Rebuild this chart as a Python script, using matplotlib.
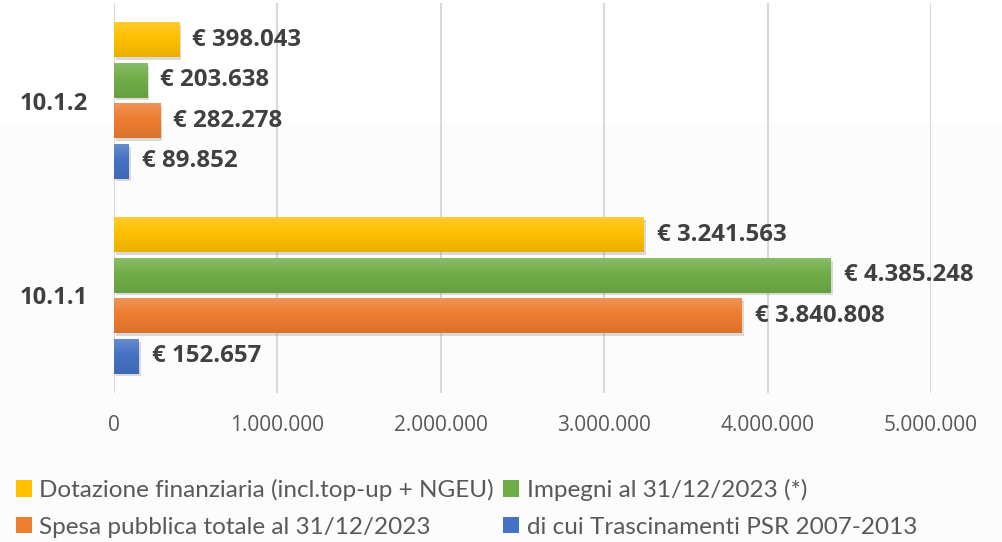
import matplotlib.pyplot as plt
import matplotlib.patheffects as pe
from matplotlib.patches import Patch, Rectangle
from matplotlib.colors import to_rgb
import numpy as np

plt.rcParams['font.family'] = ['Open Sans', 'DejaVu Sans']

# data
categories = ['10.1.1', '10.1.2']
series_names = ['Dotazione finanziaria (incl.top-up + NGEU)',
                'Impegni al 31/12/2023 (*)',
                'Spesa pubblica totale al 31/12/2023',
                'di cui Trascinamenti PSR 2007-2013']
dotazione = [3241563, 398043]
impegni = [4385248, 203638]
spesa = [3840808, 282278]
trascinamenti = [152657, 89852]
colors = ['#FFC000', '#70AD47', '#ED7D31', '#4472C4']
xticks = [0, 1000000, 2000000, 3000000, 4000000, 5000000]


def fmt(v):
    return f'{v:,}'.replace(',', '.')


def gradient(col, n=32):
    # lighter top, darker bottom, like the Excel bar fill
    c = np.array(to_rgb(col))
    top = c + (1 - c) * 0.18
    bot = c * 0.92
    t = np.linspace(0, 1, n)[:, None]
    mid = 0.45
    g = np.where(t < mid, top + (c - top) * (t / mid), c + (bot - c) * ((t - mid) / (1 - mid)))
    return g[:, None, :]


fig = plt.figure(figsize=(10.03, 5.42), dpi=100)
fig.patch.set_facecolor('white')
# very light grey lower part of the background
fig.patches.append(Rectangle((0, 0), 1, 1 - 123 / 542, transform=fig.transFigure,
                             facecolor='#fcfcfc', edgecolor='none', zorder=-10))

ax = fig.add_axes([114 / 1003, 1 - 393 / 542, (931 - 114) / 1003, 390 / 542])
ax.set_facecolor('none')

y = np.arange(len(categories))
step = 0.208
height = 0.178
all_series = [dotazione, impegni, spesa, trascinamenti]
offsets = [1.5, 0.5, -0.5, -1.5]
shadow = [pe.SimplePatchShadow(offset=(1.5, -2), shadow_rgbFace='#888888', alpha=0.3), pe.Normal()]

for vals, off, col in zip(all_series, offsets, colors):
    bars = ax.barh(y + off * step, vals, height=height, color=col, zorder=3)
    for b in bars:
        b.set_path_effects(shadow)
        x0, y0, w, h = b.get_x(), b.get_y(), b.get_width(), b.get_height()
        im = ax.imshow(gradient(col), extent=[x0, x0 + w, y0, y0 + h], aspect='auto',
                       interpolation='bilinear', zorder=3.5)
        im.set_clip_path(b)
    for yi, v in zip(y + off * step, vals):
        ax.text(v + 80000, yi, '€ ' + fmt(v), va='center', ha='left',
                fontsize=17.3, fontweight='bold', color='#404040', zorder=4)

ax.set_xlim(0, 5000000)
ax.set_ylim(-0.5, 1.5)
ax.set_xticks(xticks)
ax.set_xticklabels([fmt(t) for t in xticks], fontsize=15, color='#595959')
ax.set_yticks(y)
ax.set_yticklabels(categories, fontsize=17.2, fontweight='bold', color='#404040')
ax.tick_params(axis='both', length=0)
ax.tick_params(axis='x', pad=16)
ax.tick_params(axis='y', pad=18.5)
for s in ax.spines.values():
    s.set_visible(False)
ax.grid(axis='x', color='#d9d9d9', linewidth=1.5, zorder=0)

handles = [Patch(facecolor=c) for c in colors]
order = [0, 2, 1, 3]
fig.legend([handles[i] for i in order], [series_names[i] for i in order],
           ncol=2, loc='upper left', bbox_to_anchor=(16 / 1003, 1 - 479 / 542),
           frameon=False, prop={'family': 'Lato', 'size': 17.5}, labelcolor='#595959',
           handlelength=0.65, handleheight=0.65, handletextpad=0.3,
           columnspacing=0.4, labelspacing=0.65, borderaxespad=0, borderpad=0)

fig.savefig('out.png', dpi=100, facecolor=fig.get_facecolor())
